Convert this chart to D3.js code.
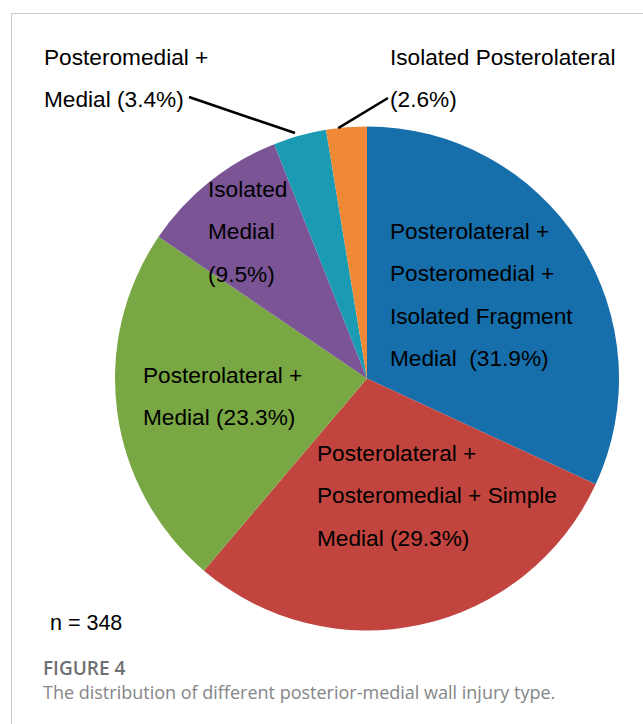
<!DOCTYPE html>
<html>
<head>
<meta charset="utf-8">
<script src="https://cdn.jsdelivr.net/npm/d3@7"></script>
<style>
  body { margin: 0; background: #fff; }
  svg { display: block; }
</style>
</head>
<body>
<div id="chart"></div>
<script>
// slice data, clockwise from 12 o'clock
var categories = [
	"Posterolateral + Posteromedial + Isolated Fragment Medial",
	"Posterolateral + Posteromedial + Simple Medial",
	"Posterolateral + Medial",
	"Isolated Medial",
	"Posteromedial + Medial",
	"Isolated Posterolateral"
];
var percents = [31.9, 29.3, 23.3, 9.5, 3.4, 2.6];
var labelLines = [
	["Posterolateral +", "Posteromedial +", "Isolated Fragment", "Medial  (31.9%)"],
	["Posterolateral +", "Posteromedial + Simple", "Medial (29.3%)"],
	["Posterolateral +", "Medial (23.3%)"],
	["Isolated", "Medial", "(9.5%)"],
	["Posteromedial +", "Medial (3.4%)"],
	["Isolated Posterolateral", "(2.6%)"]
];
var sampleSize = 348;

var colors = ["#166eab", "#c1443f", "#79a743", "#7b5496", "#1a9ab3", "#f08935"];

// label layout: first line position; outside labels get a leader line
// leader.at = [fraction across the slice, fraction of radius]
var labelLayout = [
	{ x: 390, y: 231 },
	{ x: 317, y: 453 },
	{ x: 143, y: 375 },
	{ x: 208, y: 189 },
	{ x: 44, y: 57, leader: { from: [189, 97], at: [0.43, 1.015] } },
	{ x: 390, y: 57, leader: { from: [388, 98], at: [0.3, 1.0] } }
];

var width = 643, height = 724;
var cx = 367, cy = 378.5, radius = 252;
var lineGap = 42.5;
var font = "Liberation Sans, Arial, sans-serif";

var svg = d3.select("#chart")
	.append("svg")
	.attr("width", width)
	.attr("height", height);

// figure frame (only left and top edges visible)
svg.append("path")
	.attr("d", "M11.5," + height + "V13.5H" + width)
	.attr("fill", "none")
	.attr("stroke", "#c9c9c9")
	.attr("stroke-width", 1);

var pie = d3.pie().sort(null).value(function (d) { return d; });
var arcs = pie(percents);
var arc = d3.arc().innerRadius(0).outerRadius(radius);

var g = svg.append("g").attr("transform", "translate(" + cx + "," + cy + ")");
g.selectAll("path.slice")
	.data(arcs)
	.enter()
	.append("path")
	.attr("class", "slice")
	.attr("d", arc)
	.attr("fill", function (d, i) { return colors[i]; });

// leader lines for the two thin slices
arcs.forEach(function (a, i) {
	var lay = labelLayout[i];
	if (!lay.leader) return;
	var ang = a.startAngle + (a.endAngle - a.startAngle) * lay.leader.at[0];
	var r = radius * lay.leader.at[1];
	svg.append("line")
		.attr("x1", lay.leader.from[0])
		.attr("y1", lay.leader.from[1])
		.attr("x2", cx + Math.sin(ang) * r)
		.attr("y2", cy - Math.cos(ang) * r)
		.attr("stroke", "#000")
		.attr("stroke-width", 2.6);
});

// slice labels
labelLines.forEach(function (lines, i) {
	var lay = labelLayout[i];
	var t = svg.append("g")
		.attr("transform", "translate(" + lay.x + "," + lay.y + ") scale(1.03,1)");
	lines.forEach(function (s, j) {
		t.append("text")
			.attr("x", 0)
			.attr("y", j * lineGap)
			.attr("dy", "0.35em")
			.attr("font-family", font)
			.attr("font-size", 22)
			.attr("fill", "#000")
			.style("white-space", "pre")
			.text(s);
	});
});

svg.append("text")
	.attr("x", 50)
	.attr("y", 630)
	.attr("font-family", font)
	.attr("font-size", 21.5)
	.attr("fill", "#000")
	.text("n = " + sampleSize);

// caption
svg.append("text")
	.attr("x", 43)
	.attr("y", 675)
	.attr("font-family", "Open Sans, Noto Sans, sans-serif")
	.attr("font-weight", 600)
	.attr("font-size", 19)
	.attr("fill", "#6f7072")
	.text("FIGURE 4");
svg.append("text")
	.attr("x", 43)
	.attr("y", 699)
	.attr("font-family", "Open Sans, Noto Sans, sans-serif")
	.attr("font-size", 18)
	.attr("fill", "#858688")
	.text("The distribution of different posterior-medial wall injury type.");
</script>
</body>
</html>
